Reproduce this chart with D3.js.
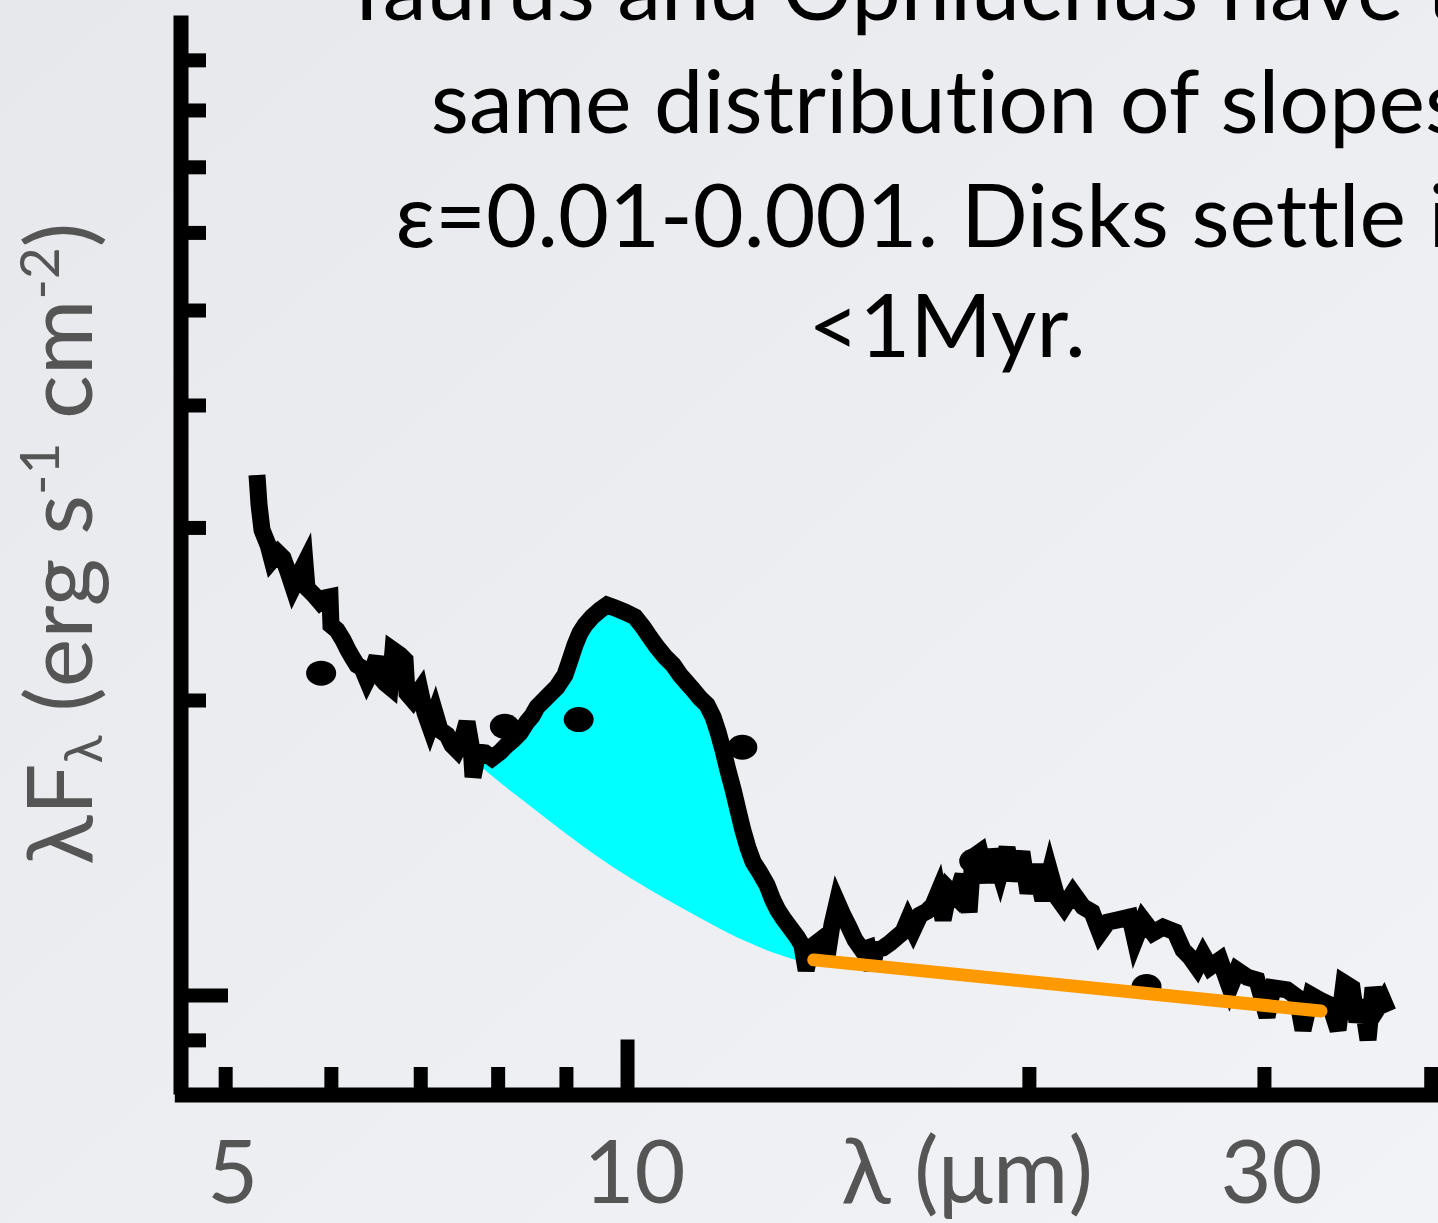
<!DOCTYPE html>
<html>
<head>
<meta charset="utf-8">
<script src="https://cdn.jsdelivr.net/npm/d3@7"></script>
<style>
  html, body { margin: 0; padding: 0; overflow: hidden; }
  svg { display: block; }
  text { font-variant-ligatures: none; font-feature-settings: "liga" 0, "clig" 0; }
</style>
</head>
<body>
<svg id="chart" width="1438" height="1223"></svg>
<script>
// IRS spectrum: wavelength (µm) and λFλ (units of the major y tick)
const wavelength = [
  5.282, 5.301, 5.328, 5.384, 5.421, 5.477, 5.525, 5.573, 5.621, 5.679,
  5.738, 5.758, 5.828, 5.889, 5.940, 5.991, 6.001, 6.064, 6.127, 6.180,
  6.223, 6.277, 6.331, 6.386, 6.452, 6.497, 6.531, 6.587, 6.644, 6.679,
  6.760, 6.819, 6.842, 6.913, 6.997, 7.058, 7.119, 7.181, 7.243, 7.331,
  7.394, 7.458, 7.523, 7.588, 7.641, 7.667, 7.734, 7.828, 7.923, 8.033,
  8.130, 8.215, 8.315, 8.415, 8.488, 8.562, 8.711, 8.862, 8.985, 9.064,
  9.142, 9.221, 9.301, 9.414, 9.545, 9.661, 9.795, 9.966, 10.14, 10.28,
  10.40, 10.53, 10.68, 10.83, 10.96, 11.09, 11.21, 11.34, 11.48, 11.60,
  11.70, 11.80, 11.90, 12.01, 12.11, 12.21, 12.32, 12.43, 12.58, 12.73,
  12.86, 12.97, 13.09, 13.25, 13.41, 13.52, 13.62, 13.74, 13.90, 14.02,
  14.12, 14.24, 14.37, 14.51, 14.64, 14.82, 15.00, 15.15, 15.26, 15.36,
  15.55, 15.74, 15.93, 16.10, 16.24, 16.38, 16.58, 16.78, 16.95, 17.10,
  17.25, 17.43, 17.64, 17.85, 18.04, 18.16, 18.38, 18.61, 18.80, 19.03,
  19.26, 19.46, 19.76, 19.97, 20.21, 20.49, 20.74, 20.99, 21.25, 21.58,
  21.96, 22.30, 22.61, 22.92, 23.32, 23.81, 24.02, 24.35, 24.77, 25.21,
  25.73, 26.09, 26.41, 26.73, 27.01, 27.33, 27.81, 28.29, 28.64, 29.14,
  29.64, 30.16, 30.47, 31.22, 31.76, 32.09, 32.54, 33.05, 33.62, 34.09,
  34.44, 34.92, 35.22, 35.53, 35.90, 36.21, 36.52, 36.84, 37.16
];
const flux = [
  3.393, 3.162, 2.982, 2.879, 2.779, 2.825, 2.792, 2.702, 2.608, 2.683,
  2.759, 2.602, 2.560, 2.518, 2.542, 2.548, 2.385, 2.357, 2.303, 2.249,
  2.213, 2.171, 2.156, 2.096, 2.156, 2.213, 2.111, 2.082, 2.062, 2.249,
  2.223, 2.197, 2.033, 2.000, 2.048, 1.940, 1.877, 1.940, 1.864, 1.842,
  1.799, 1.778, 1.821, 1.899, 1.799, 1.669, 1.770, 1.766, 1.745, 1.770,
  1.799, 1.821, 1.851, 1.899, 1.926, 1.967, 2.014, 2.062, 2.121, 2.197,
  2.276, 2.341, 2.385, 2.431, 2.471, 2.500, 2.483, 2.459, 2.431, 2.374,
  2.319, 2.265, 2.213, 2.171, 2.121, 2.082, 2.048, 2.009, 1.977, 1.922,
  1.855, 1.778, 1.697, 1.619, 1.544, 1.474, 1.413, 1.367, 1.332, 1.295,
  1.250, 1.221, 1.198, 1.171, 1.146, 1.125, 1.060, 1.119, 1.133, 1.143,
  1.093, 1.179, 1.244, 1.207, 1.179, 1.138, 1.112, 1.117, 1.060, 1.112,
  1.117, 1.130, 1.146, 1.160, 1.193, 1.165, 1.207, 1.218, 1.235, 1.271,
  1.193, 1.280, 1.259, 1.326, 1.215, 1.383, 1.399, 1.304, 1.406, 1.332,
  1.413, 1.310, 1.399, 1.271, 1.357, 1.250, 1.335, 1.259, 1.230, 1.271,
  1.230, 1.215, 1.157, 1.187, 1.193, 1.201, 1.138, 1.193, 1.157, 1.173,
  1.160, 1.112, 1.093, 1.068, 1.099, 1.068, 1.086, 1.017, 1.060, 1.043,
  1.036, 0.950, 1.017, 1.012, 0.995, 0.921, 1.000, 0.988, 0.977, 0.921,
  1.029, 1.017, 0.939, 0.988, 0.900, 1.017, 0.970, 0.988, 0.961
];

// Broad-band photometry
const photWavelength = [5.9, 8.1, 9.2, 12.2, 18.2, 24.5];
const photFlux = [2.13, 1.88, 1.91, 1.79, 1.37, 1.02];

// Underlying continuum below the 10 µm silicate feature
const contWavelength = [7.76, 8.22, 8.71, 9.22, 9.76, 10.35, 10.96, 11.60, 12.30, 13.02, 13.52];
const contFlux = [1.713, 1.607, 1.512, 1.426, 1.351, 1.286, 1.230, 1.179, 1.133, 1.099, 1.081];

// 13–33 µm slope
const slopeWavelength = [13.8, 33.1];
const slopeFlux = [1.086, 0.963];

// Axis ticks and labels
const xTickValues = [5, 6, 7, 8, 9, 10, 20, 30, 40];
const xMajorTick = 10;
const xTickLabels = [5, 10, 30];
const yTickValues = [0.9, 1, 2, 3, 4, 5, 6, 7, 8, 9];
const yMajorTick = 1;
const xAxisTitle = "λ (μm)";

const titleLines = [
  "Taurus and Ophiuchus have the",
  "same distribution of slopes",
  "ε=0.01-0.001. Disks settle in",
  "<1Myr."
];

const FONT = "'Gill Sans', 'Gill Sans MT', Lato, sans-serif";
const svg = d3.select("#chart");

// Background
const defs = svg.append("defs");
const grad = defs.append("linearGradient").attr("id", "bg")
  .attr("x1", "0").attr("y1", "0").attr("x2", "1").attr("y2", "1");
grad.append("stop").attr("offset", "0").attr("stop-color", "#e6e8eb");
grad.append("stop").attr("offset", "1").attr("stop-color", "#f2f3f6");
svg.append("rect").attr("width", 1438).attr("height", 1223).attr("fill", "url(#bg)");

// Scales (log–log)
const x = d3.scaleLog().domain([4.58, 50]).range([174.3, 1560.1]);
const y = d3.scaleLog().domain([0.7925, 10]).range([1094, 15]);
const axisX = 180.5;   // position of the y axis line
const axisY = 1094.5;  // position of the x axis line

// Title text
const title = svg.append("text")
  .attr("font-family", FONT).attr("font-size", 88).attr("fill", "#000")
  .attr("text-anchor", "middle");
const titleBaselines = [20, 133, 247, 357];
titleLines.forEach((t, i) => {
  title.append("tspan").attr("x", 947).attr("y", titleBaselines[i]).text(t);
});

// Silicate feature: area between spectrum and continuum
const spec = wavelength.map((w, i) => [w, flux[i]]);
const cont = contWavelength.map((w, i) => [w, contFlux[i]]);
const lo = contWavelength[0] * 0.996, hi = contWavelength[contWavelength.length - 1];
const featureTop = spec.filter(d => d[0] >= lo && d[0] <= hi);
const straight = d3.line().x(d => x(d[0])).y(d => y(d[1]));
const smooth = d3.line().x(d => x(d[0])).y(d => y(d[1])).curve(d3.curveNatural);
const topPath = straight(featureTop);
const bottomPath = smooth(cont.slice().reverse()).replace(/^M/, "L");
svg.append("path")
  .attr("d", topPath + bottomPath + "Z")
  .attr("fill", "#00ffff");

// Photometric points
svg.append("g").selectAll("ellipse")
  .data(photWavelength.map((w, i) => [w, photFlux[i]]))
  .join("ellipse")
  .attr("cx", d => x(d[0])).attr("cy", d => y(d[1]))
  .attr("rx", 15).attr("ry", 12.5)
  .attr("fill", "#000");

// Spectrum
svg.append("path")
  .attr("d", straight(spec))
  .attr("fill", "none")
  .attr("stroke", "#000")
  .attr("stroke-width", 17)
  .attr("stroke-linejoin", "miter")
  .attr("stroke-miterlimit", 4)
  .attr("stroke-linecap", "butt");

// Slope line
svg.append("path")
  .attr("d", straight(slopeWavelength.map((w, i) => [w, slopeFlux[i]])))
  .attr("fill", "none")
  .attr("stroke", "#ff9900")
  .attr("stroke-width", 13)
  .attr("stroke-linecap", "round");

// X axis: ticks pointing up
const gx = svg.append("g").attr("transform", `translate(0,${axisY})`)
  .call(d3.axisTop(x).tickValues(xTickValues).tickFormat("").tickSize(27.5).tickSizeOuter(0));
gx.selectAll(".tick line")
  .attr("y2", d => d === xMajorTick ? -55 : -27.5);

// Y axis: ticks pointing right
const gy = svg.append("g").attr("transform", `translate(${axisX},0)`)
  .call(d3.axisRight(y).tickValues(yTickValues).tickFormat("").tickSize(25.5).tickSizeOuter(0));
gy.selectAll(".tick line")
  .attr("x2", d => d === yMajorTick ? 47.5 : 25.5);

[gx, gy].forEach(g => {
  g.select(".domain").attr("stroke", "#000").attr("stroke-width", 15).attr("stroke-linecap", "butt");
  g.selectAll(".tick line").attr("stroke", "#000").attr("stroke-width", 14);
});

// X tick labels
const gl = svg.append("g").attr("transform", `translate(0,${axisY})`)
  .call(d3.axisBottom(x).tickValues(xTickLabels).tickFormat(d3.format("d")).tickSize(0));
gl.select(".domain").remove();
gl.selectAll(".tick text")
  .attr("y", 1203 - axisY).attr("dy", 0).attr("dx", 7)
  .attr("font-family", FONT).attr("font-size", 88).attr("fill", "#555");

// X axis title
svg.append("text")
  .attr("x", 967).attr("y", 1203)
  .attr("text-anchor", "middle")
  .attr("font-family", FONT).attr("font-size", 92).attr("fill", "#555")
  .text(xAxisTitle);

// Y axis title
const yl = svg.append("text")
  .attr("transform", "translate(92,865) rotate(-90)")
  .attr("font-family", FONT).attr("font-size", 92).attr("fill", "#555");
yl.append("tspan").text("λF");
yl.append("tspan").attr("font-size", 52).attr("dy", 10).text("λ");
yl.append("tspan").attr("dy", -10).text(" (erg s");
yl.append("tspan").attr("font-size", 55).attr("dy", -33).text("-1");
yl.append("tspan").attr("dy", 33).text(" cm");
yl.append("tspan").attr("font-size", 55).attr("dy", -33).text("-2");
yl.append("tspan").attr("dy", 33).text(")");
</script>
</body>
</html>
